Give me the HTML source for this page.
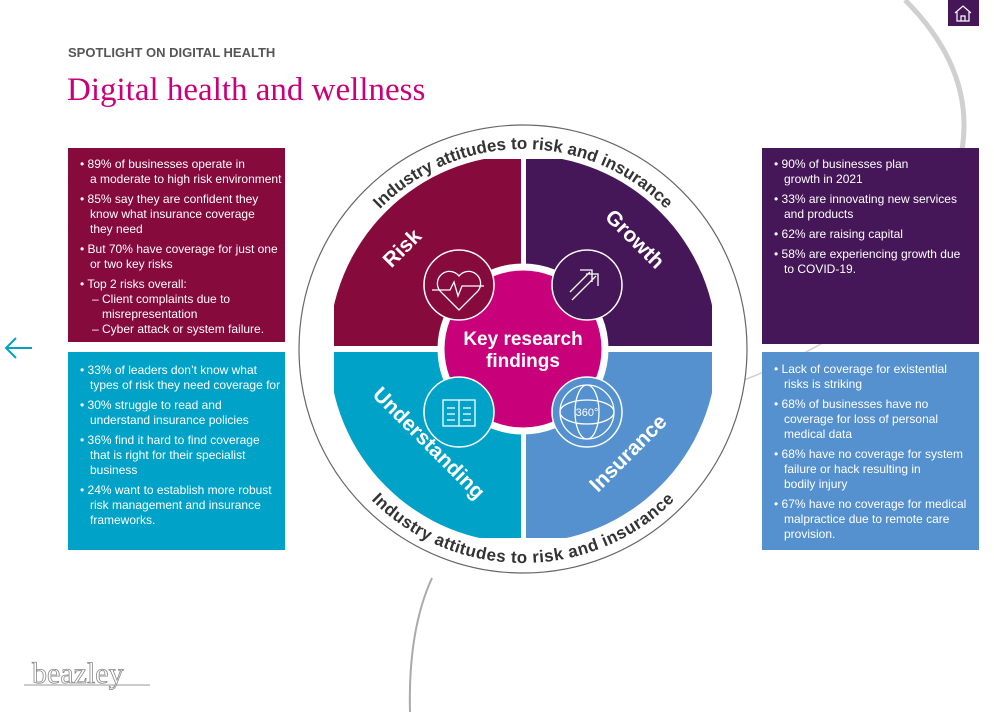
<!DOCTYPE html>
<html><head><meta charset="utf-8"><style>
body{margin:0;width:994px;height:712px;overflow:hidden;background:#fff;font-family:"Liberation Sans",sans-serif;position:relative}
.box{position:absolute;color:#fff;font-size:12px;line-height:15px;box-sizing:border-box;padding:9px 4px 0 12px;white-space:nowrap}
.box ul{margin:0;padding:0;list-style:none}
.box li{padding-left:10px;text-indent:-10px;margin-bottom:5px}
.box li.s{padding-left:22px;text-indent:-10px;margin-bottom:0}
</style></head><body>
<svg width="994" height="712" style="position:absolute;left:0;top:0">
<path d="M905,0 Q975,70 962,150" fill="none" stroke="#d0d0d0" stroke-width="5"/>
<path d="M744,380 Q950,300 962,150" fill="none" stroke="#d0d0d0" stroke-width="1.5"/>
<path d="M432,578 Q408,630 410,712" fill="none" stroke="#aaa" stroke-width="2"/>
<rect x="948" y="0" width="31" height="26" fill="#461758"/>
<path d="M955,13 L963,6 L971,13 M957,12 V21 H969 V12 M961,21 V16 H965 V21" fill="none" stroke="#fff" stroke-width="1.2"/>
<circle cx="523" cy="349" r="224" fill="#fff" stroke="#666" stroke-width="1.2"/>
<defs>
<clipPath id="c"><circle cx="523" cy="349" r="194"/></clipPath>
<path id="ta" d="M323,349 A200,200 0 0 1 723,349"/>
<path id="ba" d="M321,349 A202,202 0 0 0 725,349"/>
</defs>
<g clip-path="url(#c)">
<path d="M334,346 V300 A150,150 0 0 1 484,159 H521 V346 Z" fill="#870a3c"/>
<path d="M712,346 V300 A150,150 0 0 0 562,159 H526 V346 Z" fill="#461758"/>
<path d="M334,352 V400 A150,150 0 0 0 484,538 H521 V352 Z" fill="#00a3c7"/>
<path d="M712,352 V400 A150,150 0 0 1 562,538 H526 V352 Z" fill="#5591cf"/>
</g>
<text font-size="17" font-weight="bold" fill="#333"><textPath href="#ta" startOffset="50%" text-anchor="middle">Industry attitudes to risk and insurance</textPath></text>
<text font-size="17" font-weight="bold" fill="#333"><textPath href="#ba" startOffset="50%" text-anchor="middle" dominant-baseline="hanging">Industry attitudes to risk and insurance</textPath></text>
<circle cx="523" cy="349" r="82" fill="#c8007a" stroke="#fff" stroke-width="7"/>
<g stroke="#fff" stroke-width="1.5">
<circle cx="459" cy="285" r="35" fill="#870a3c"/>
<circle cx="587" cy="285" r="35" fill="#461758"/>
<circle cx="459" cy="412" r="35" fill="#00a3c7"/>
<circle cx="587" cy="412" r="35" fill="#5591cf"/>
</g>
<g fill="none" stroke="#fff" stroke-width="1.3">
<path d="M459,310 L440,291 A10,10 0 0 1 459,276 A10,10 0 0 1 478,291 Z"/>
<path d="M432,290 H450 L454,282 L458,296 L462,286 H484"/>
<path d="M572,300 L596,276 M586,274 H598 V286 M570,292 L590,272 M580,270 H592 V282"/>
<path d="M443,400 H459 V426 H443 Z M459,400 H475 V426 H459 Z M447,408 H455 M447,414 H455 M447,420 H455 M463,408 H471 M463,414 H471 M463,420 H471"/>
<ellipse cx="587" cy="412" rx="27" ry="27"/><ellipse cx="587" cy="412" rx="27" ry="12"/><ellipse cx="587" cy="412" rx="12" ry="27"/>
</g>
<text x="587" y="416" font-size="11" fill="#fff" text-anchor="middle">360°</text>
<text x="523" y="345" font-size="19" font-weight="bold" fill="#fff" text-anchor="middle">Key research</text>
<text x="523" y="367" font-size="19" font-weight="bold" fill="#fff" text-anchor="middle">findings</text>
<g font-size="21" font-weight="bold" fill="#fff" text-anchor="middle">
<text transform="translate(407,253) rotate(-45)">Risk</text>
<text transform="translate(630,244) rotate(45)">Growth</text>
<text transform="translate(424,448) rotate(45)">Understanding</text>
<text transform="translate(633,458) rotate(-45)">Insurance</text>
</g>
<path d="M6,348 H32 M16,338 L6,348 L16,358" fill="none" stroke="#00a3c7" stroke-width="2"/>
<line x1="24" y1="685" x2="150" y2="685" stroke="#999"/>
<text x="32" y="683" font-family="Liberation Serif" font-size="30" fill="#fff" stroke="#888" stroke-width="0.8">beazley</text>
</svg>
<div style="position:absolute;left:68px;top:45px;font-size:13px;font-weight:bold;color:#555">SPOTLIGHT ON DIGITAL HEALTH</div>
<div style="position:absolute;left:67px;top:72px;font-family:'Liberation Serif',serif;font-size:33px;color:#c8007a">Digital health and wellness</div>
<div class="box" style="left:68px;top:148px;width:217px;height:194px;background:#870a3c"><ul>
<li>• 89% of businesses operate in<br>a moderate to high risk environment</li>
<li>• 85% say they are confident they<br>know what insurance coverage<br>they need</li>
<li>• But 70% have coverage for just one<br>or two key risks</li>
<li style="margin-bottom:0">• Top 2 risks overall:</li>
<li class="s">– Client complaints due to<br>misrepresentation</li>
<li class="s">– Cyber attack or system failure.</li></ul></div>
<div class="box" style="left:68px;top:352px;width:217px;height:198px;background:#00a3c7;padding-top:11px"><ul>
<li>• 33% of leaders don’t know what<br>types of risk they need coverage for</li>
<li>• 30% struggle to read and<br>understand insurance policies</li>
<li>• 36% find it hard to find coverage<br>that is right for their specialist<br>business</li>
<li>• 24% want to establish more robust<br>risk management and insurance<br>frameworks.</li></ul></div>
<div class="box" style="left:762px;top:148px;width:217px;height:196px;background:#461758"><ul>
<li>• 90% of businesses plan<br>growth in 2021</li>
<li>• 33% are innovating new services<br>and products</li>
<li>• 62% are raising capital</li>
<li>• 58% are experiencing growth due<br>to COVID-19.</li></ul></div>
<div class="box" style="left:762px;top:352px;width:217px;height:198px;background:#5591cf;padding-top:10px"><ul>
<li>• Lack of coverage for existential<br>risks is striking</li>
<li>• 68% of businesses have no<br>coverage for loss of personal<br>medical data</li>
<li>• 68% have no coverage for system<br>failure or hack resulting in<br>bodily injury</li>
<li>• 67% have no coverage for medical<br>malpractice due to remote care<br>provision.</li></ul></div>
</body></html>
